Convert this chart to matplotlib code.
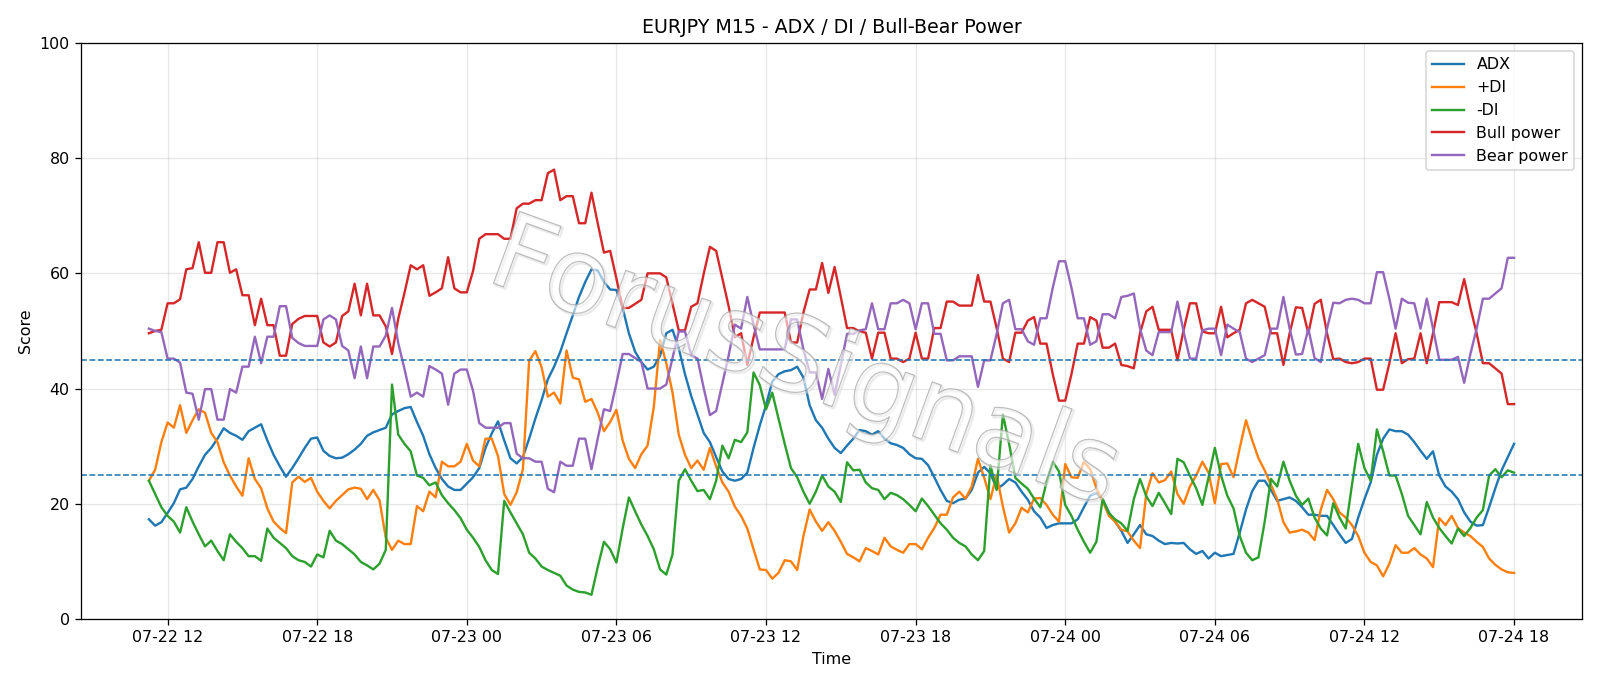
import matplotlib
matplotlib.use("Agg")
import matplotlib.pyplot as plt
import matplotlib.dates as mdates
import matplotlib.patheffects as pe
import pandas as pd

# ---------------- data (EURJPY M15, 07-22 11:15 -> 07-24 18:00) ----------------
start_time = "2025-07-22 11:15"
n_points = 220

adx = [17.3, 16.2, 16.8, 18.4, 20.1, 22.5, 22.8, 24.3, 26.5, 28.5, 29.7, 31.3, 33.1, 32.3, 31.8, 31.1, 32.6, 33.2, 33.8, 31.0,
       28.5, 26.5, 24.7, 26.2, 27.9, 29.7, 31.3, 31.5, 29.2, 28.3, 27.9, 28.0, 28.6, 29.4, 30.4, 31.8, 32.4, 32.8,
       33.2, 35.5, 36.1, 36.6, 36.8, 34.2, 31.8, 28.6, 26.2, 24.3, 23.0, 22.4, 22.4, 23.5, 24.6, 26.2, 29.7, 32.2, 34.3, 31.0,
       27.9, 27.0, 28.1, 31.3, 34.8, 38.0, 41.6, 43.8, 46.4, 49.6, 52.7, 55.9, 58.5, 60.7, 60.5, 58.5, 57.2,
       57.1, 54.0, 49.6, 46.4, 44.6, 43.3, 43.8, 45.7, 49.6, 50.2, 47.0, 42.5, 38.7, 35.5, 32.3, 30.7, 28.1, 25.6, 24.3, 24.0,
       24.3, 25.4, 29.7, 33.6, 37.1, 41.2, 42.5, 43.0, 43.2, 43.8, 41.9, 37.1, 34.5, 33.2, 31.3, 29.7,
       28.8, 30.1, 31.3, 32.8, 32.6, 32.0, 32.6, 31.3, 30.5, 30.2, 29.7, 28.6, 27.9, 27.8, 26.7, 24.6, 22.4, 20.5, 20.1, 20.7,
       20.9, 22.4, 25.4, 26.4, 25.3, 22.6, 23.3, 24.3, 23.7, 22.1, 20.7, 18.7, 17.6, 15.8, 16.3, 16.6, 16.6, 16.6,
       17.3, 19.4, 21.4, 21.9, 20.8, 18.5, 16.9, 15.3, 13.2, 14.7, 16.3, 14.7, 14.4, 13.6, 13.0, 13.2, 13.1, 13.2, 12.1, 11.3,
       11.8, 10.5, 11.5, 10.9, 11.1, 11.3, 15.0, 19.0, 22.2, 24.0, 24.0, 22.4, 20.5, 20.8, 21.1, 20.5,
       19.4, 18.1, 18.1, 17.9, 17.9, 16.3, 14.7, 13.2, 13.9, 17.6, 20.8, 23.7, 28.5, 31.3, 32.9, 32.6, 32.6, 32.0, 30.7, 29.2,
       27.8, 29.1, 24.9, 23.0, 22.1, 20.8, 18.5, 16.9, 16.2, 16.3, 19.4, 22.7, 25.8, 28.1, 30.4]

plus_di = [24.0, 25.9, 30.7, 34.1, 33.2, 37.1, 32.3, 34.5, 36.4, 35.8, 32.3, 30.7, 27.2, 24.9, 23.0, 21.4, 27.9, 24.3, 22.7, 19.2,
           16.9, 15.8, 14.9, 23.7, 24.7, 23.8, 24.5, 22.1, 20.5, 19.2, 20.5, 21.5, 22.5, 22.8, 22.6, 20.8, 22.4, 20.6,
           14.1, 12.0, 13.6, 13.0, 13.0, 19.6, 18.7, 22.1, 21.1, 27.3, 26.5, 26.5, 27.3, 30.4, 27.5, 26.5, 31.3, 31.3, 28.3, 21.7,
           19.8, 22.0, 26.0, 44.8, 46.5, 43.7, 38.6, 39.3, 37.4, 46.6, 41.9, 41.6, 37.7, 38.2, 35.8, 32.6, 34.2,
           36.3, 31.0, 27.8, 26.2, 28.6, 30.1, 36.8, 48.4, 44.4, 39.3, 32.0, 28.5, 26.2, 27.5, 25.9, 29.7, 26.5, 23.7, 22.1, 19.5,
           17.9, 15.7, 12.1, 8.6, 8.5, 7.0, 8.0, 10.2, 10.0, 8.5, 14.4, 19.0, 16.9, 15.3, 16.8, 15.3,
           13.4, 11.3, 10.7, 10.0, 12.3, 11.8, 11.2, 14.1, 12.6, 12.0, 11.5, 13.0, 13.0, 12.1, 14.1, 15.8, 18.1, 18.1, 21.1, 22.1,
           20.9, 23.0, 27.8, 24.5, 20.8, 25.0, 19.5, 15.0, 16.6, 19.3, 18.5, 20.9, 21.0, 19.8, 18.1, 16.9, 26.9, 24.6,
           24.5, 27.3, 26.0, 22.7, 20.5, 17.9, 16.9, 15.5, 15.2, 13.6, 12.3, 21.7, 25.3, 23.7, 24.1, 25.6, 21.7, 20.0, 23.0, 24.9,
           27.3, 25.4, 20.1, 26.9, 27.0, 24.6, 29.7, 34.5, 31.0, 27.9, 25.8, 23.3, 20.8, 16.8, 15.0, 15.2,
           15.5, 15.0, 13.7, 19.0, 22.4, 20.8, 18.5, 17.6, 16.3, 14.4, 11.5, 9.9, 9.3, 7.4, 9.6, 12.8, 11.5, 11.5, 12.3, 11.2,
           10.5, 9.0, 17.5, 16.3, 17.9, 15.8, 15.0, 14.4, 13.4, 12.5, 10.5, 9.4, 8.6, 8.1, 8.0]

minus_di = [24.0, 21.7, 19.4, 17.9, 16.9, 15.0, 19.4, 16.9, 14.7, 12.6, 13.6, 11.8, 10.2, 14.7, 13.4, 12.3, 10.9, 10.9, 10.1, 15.7,
            14.1, 13.2, 12.3, 10.9, 10.2, 9.9, 9.1, 11.2, 10.7, 15.3, 13.6, 13.0, 12.1, 11.2, 9.9, 9.3, 8.6, 9.6,
            12.0, 40.7, 32.0, 30.4, 29.1, 24.9, 24.5, 23.2, 23.7, 21.5, 20.1, 18.9, 17.5, 15.5, 14.1, 12.5, 10.2, 8.5, 7.8, 20.5,
            18.5, 16.6, 14.7, 11.5, 10.5, 9.1, 8.5, 8.0, 7.5, 5.8, 5.1, 4.7, 4.6, 4.2, 9.0, 13.4, 12.1,
            9.8, 15.7, 21.1, 18.7, 16.4, 14.4, 12.1, 8.6, 7.7, 11.2, 24.0, 26.0, 24.0, 22.2, 22.4, 20.8, 24.0, 30.1, 27.9, 31.1,
            30.7, 32.4, 42.8, 40.6, 36.4, 39.3, 34.8, 30.4, 26.2, 24.6, 22.1, 20.0, 22.1, 24.9, 23.0, 22.1,
            20.3, 27.2, 25.8, 25.9, 23.7, 22.7, 22.4, 20.8, 21.9, 21.5, 20.8, 19.8, 18.7, 20.9, 19.6, 18.1, 16.6, 15.5, 14.1, 13.2,
            12.6, 11.2, 10.2, 11.8, 26.7, 22.4, 35.5, 30.4, 24.5, 23.5, 22.6, 20.9, 19.4, 23.7, 27.3, 25.6, 19.8, 17.9,
            15.5, 13.4, 11.5, 13.4, 20.8, 18.4, 17.3, 16.6, 15.3, 20.8, 24.3, 21.3, 19.6, 21.9, 20.1, 18.2, 27.8, 27.2, 24.9, 22.7,
            19.8, 24.6, 29.7, 24.9, 21.4, 19.2, 14.4, 11.5, 10.2, 10.7, 16.9, 24.3, 23.0, 27.3, 24.0, 21.4,
            19.8, 20.9, 17.6, 15.7, 14.5, 20.1, 17.6, 15.7, 23.3, 30.4, 26.2, 24.0, 32.9, 29.1, 24.9, 24.9, 21.7, 17.9, 16.3, 14.7,
            20.3, 17.6, 15.8, 14.4, 13.1, 15.7, 14.4, 15.8, 17.6, 18.9, 24.9, 26.0, 24.6, 25.8, 25.4]

bull_power = [49.6, 50.0, 50.2, 54.8, 54.8, 55.5, 60.7, 60.9, 65.4, 60.1, 60.1, 65.4, 65.4, 60.1, 60.7, 56.2, 56.2, 51.0, 55.6, 51.0,
              51.0, 45.7, 45.7, 51.2, 52.1, 52.6, 52.6, 52.6, 48.0, 47.3, 48.0, 52.6, 53.4, 58.2, 52.7, 58.2, 52.7, 52.7,
              50.8, 46.0, 52.1, 56.6, 61.4, 60.7, 61.4, 56.1, 56.7, 57.4, 62.8, 57.4, 56.7, 56.7, 60.4, 66.0, 66.8, 66.8, 66.8, 66.0,
              66.0, 71.3, 72.1, 72.1, 72.7, 72.7, 77.4, 78.0, 72.7, 73.4, 73.4, 68.7, 68.7, 74.0, 68.7, 63.6, 63.9,
              59.1, 54.0, 54.0, 54.7, 55.4, 60.0, 60.0, 60.0, 59.3, 54.7, 50.1, 50.1, 54.2, 54.8, 59.9, 64.6, 63.9, 59.1, 54.3, 48.9,
              49.6, 44.1, 48.9, 53.2, 53.2, 53.2, 53.2, 53.2, 48.0, 48.0, 53.2, 57.2, 57.2, 61.8, 56.6, 61.1,
              55.9, 50.5, 50.5, 49.9, 49.7, 45.2, 49.7, 49.7, 45.2, 45.2, 44.6, 45.2, 49.7, 45.2, 45.2, 50.5, 50.5, 55.1, 55.1, 54.4,
              54.4, 54.4, 59.7, 55.1, 55.1, 50.5, 45.2, 44.6, 49.7, 49.7, 51.8, 52.4, 47.8, 47.8, 42.5, 37.9, 37.9, 42.5,
              47.8, 47.8, 52.4, 51.8, 47.1, 47.1, 47.8, 44.1, 43.9, 43.5, 49.6, 53.4, 54.2, 50.2, 50.2, 50.2, 44.9, 50.2, 54.8, 54.8,
              49.9, 49.6, 49.6, 54.2, 48.9, 49.6, 50.2, 54.8, 55.4, 54.8, 54.2, 49.6, 49.6, 44.1, 49.6, 54.1,
              54.0, 49.6, 54.7, 55.4, 49.6, 45.1, 45.2, 44.6, 44.4, 44.6, 45.2, 45.2, 39.8, 39.8, 44.4, 49.6, 44.4, 45.1, 45.2, 49.6,
              44.4, 49.6, 55.0, 55.0, 55.0, 54.5, 59.0, 54.0, 49.6, 44.4, 44.4, 43.5, 42.6, 37.3, 37.3]

bear_power = [50.4, 50.0, 49.8, 45.2, 45.2, 44.5, 39.3, 39.1, 34.6, 39.9, 39.9, 34.6, 34.6, 39.9, 39.3, 43.8, 43.8, 49.0, 44.4, 49.0,
              49.0, 54.3, 54.3, 48.8, 47.9, 47.4, 47.4, 47.4, 52.0, 52.7, 52.0, 47.4, 46.6, 41.8, 47.3, 41.8, 47.3, 47.3,
              49.2, 54.0, 47.9, 43.4, 38.6, 39.3, 38.6, 43.9, 43.3, 42.6, 37.2, 42.6, 43.3, 43.3, 39.6, 34.0, 33.2, 33.2, 33.2, 34.0,
              34.0, 28.7, 27.9, 27.9, 27.3, 27.3, 22.6, 22.0, 27.3, 26.6, 26.6, 31.3, 31.3, 26.0, 31.3, 36.4, 36.1,
              40.9, 46.0, 46.0, 45.3, 44.6, 40.0, 40.0, 40.0, 40.7, 45.3, 49.9, 49.9, 45.8, 45.2, 40.1, 35.4, 36.1, 40.9, 45.7, 51.1,
              50.4, 55.9, 51.1, 46.8, 46.8, 46.8, 46.8, 46.8, 52.0, 52.0, 46.8, 42.8, 42.8, 38.2, 43.4, 38.9,
              44.1, 49.5, 49.5, 50.1, 50.3, 54.8, 50.3, 50.3, 54.8, 54.8, 55.4, 54.8, 50.3, 54.8, 54.8, 49.5, 49.5, 44.9, 44.9, 45.6,
              45.6, 45.6, 40.3, 44.9, 44.9, 49.5, 54.8, 55.4, 50.3, 50.3, 48.2, 47.6, 52.2, 52.2, 57.5, 62.1, 62.1, 57.5,
              52.2, 52.2, 47.6, 48.2, 52.9, 52.9, 52.2, 55.9, 56.1, 56.5, 50.4, 46.6, 45.8, 49.8, 49.8, 49.8, 55.1, 49.8, 45.2, 45.2,
              50.1, 50.4, 50.4, 45.8, 51.1, 50.4, 49.8, 45.2, 44.6, 45.2, 45.8, 50.4, 50.4, 55.9, 50.4, 45.9,
              46.0, 50.4, 45.3, 44.6, 50.4, 54.9, 54.8, 55.4, 55.6, 55.4, 54.8, 54.8, 60.2, 60.2, 55.6, 50.4, 55.6, 54.9, 54.8, 50.4,
              55.6, 50.4, 45.0, 45.0, 45.0, 45.5, 41.0, 46.0, 50.4, 55.6, 55.6, 56.5, 57.4, 62.7, 62.7]

series_labels = ["ADX", "+DI", "-DI", "Bull power", "Bear power"]
threshold_levels = [25, 45]
title_text = "EURJPY M15 - ADX / DI / Bull-Bear Power"
watermark_text = "ForusSignals"

times = pd.date_range(start_time, periods=n_points, freq="15min")

# ---------------- figure ----------------
fig = plt.figure(figsize=(14, 6.003), dpi=114.29)
ax = fig.add_axes([0.0504, 0.0977, 0.9385, 0.8396])

for vals, lab in zip([adx, plus_di, minus_di, bull_power, bear_power], series_labels):
    ax.plot(times, vals, label=lab, linewidth=1.5)

for lvl in threshold_levels:
    ax.axhline(lvl, linestyle="--", linewidth=1.0, color="C0")

ax.set_ylim(0, 100)
ax.xaxis.set_major_locator(mdates.HourLocator(byhour=[0, 6, 12, 18]))
ax.xaxis.set_major_formatter(mdates.DateFormatter("%m-%d %H"))
ax.grid(True, alpha=0.3)
ax.set_title(title_text)
ax.set_xlabel("Time")
ax.set_ylabel("Score")
ax.legend(loc="upper right")

ax.text(0.482, 0.44, watermark_text, transform=ax.transAxes, fontsize=66,
        rotation=-20, ha="center", va="center", color=(1, 1, 1, 0.25), zorder=10,
        path_effects=[pe.Stroke(linewidth=1.6, foreground=(0.85, 0.85, 0.85, 0.5), offset=(1.2, -1.2)),
                      pe.Stroke(linewidth=0.8, foreground=(0.6, 0.6, 0.6, 0.7)),
                      pe.Normal()])

fig.savefig("out.png", dpi=114.29)
